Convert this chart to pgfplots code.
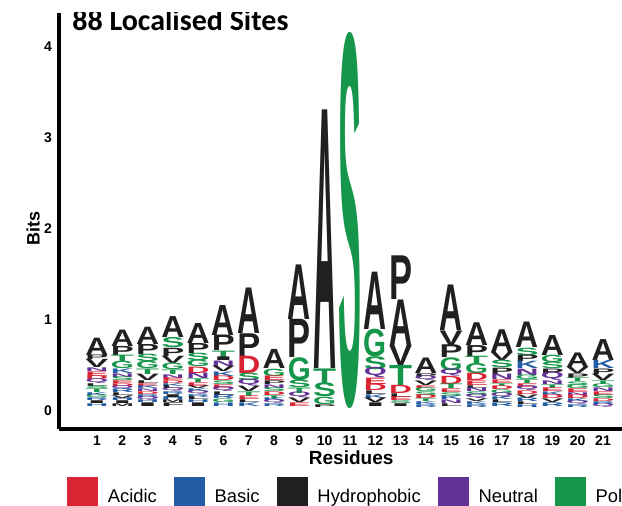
\documentclass[border=0pt]{standalone}
\usepackage{pgfplots}
\pgfplotsset{compat=1.18}
\usepackage{fontspec}
\usepackage{graphicx}
\setmainfont{Liberation Sans}
\newfontfamily\titlefont{Carlito}

\definecolor{clsa}{RGB}{218,36,52}   % acidic
\definecolor{clsb}{RGB}{34,92,162}   % basic
\definecolor{clsh}{RGB}{33,31,32}    % hydrophobic
\definecolor{clsn}{RGB}{98,50,150}   % neutral
\definecolor{clsp}{RGB}{22,150,74}   % polar

\newdimen\bitunit
\bitunit=45.51pt
% meta = letter/height in bits/class
\def\logoletter#1/#2/#3\relax{\resizebox{11.5pt}{#2\bitunit}{\textcolor{cls#3}{\bfseries #1}}}
\newcommand\logonode{\edef\tmpmeta{\pgfplotspointmeta}\expandafter\logoletter\tmpmeta\relax}

% x = residue, b = bottom of letter (bits)
\pgfplotstableread{
x b m
1 0.61 A/0.19/h
1 0.56 P/0.05/h
1 0.47 V/0.09/h
1 0.43 N/0.04/n
1 0.38 E/0.05/a
1 0.34 D/0.04/a
1 0.30 Q/0.04/n
1 0.27 L/0.03/h
1 0.24 S/0.03/p
1 0.20 T/0.04/p
1 0.17 K/0.03/b
1 0.14 G/0.03/p
1 0.11 R/0.03/b
1 0.08 I/0.03/h
1 0.05 H/0.03/b
2 0.71 A/0.18/h
2 0.61 P/0.10/h
2 0.54 T/0.07/p
2 0.46 G/0.08/p
2 0.41 K/0.05/b
2 0.37 N/0.04/n
2 0.33 S/0.04/p
2 0.30 E/0.03/a
2 0.27 D/0.03/a
2 0.24 Q/0.03/n
2 0.20 R/0.04/b
2 0.17 L/0.03/h
2 0.14 V/0.03/h
2 0.11 H/0.03/b
2 0.08 I/0.03/h
2 0.05 M/0.03/h
3 0.73 A/0.19/h
3 0.62 P/0.11/h
3 0.54 S/0.08/p
3 0.46 G/0.08/p
3 0.40 T/0.06/p
3 0.33 V/0.07/h
3 0.30 L/0.03/h
3 0.27 E/0.03/a
3 0.24 K/0.03/b
3 0.21 N/0.03/n
3 0.18 D/0.03/a
3 0.15 R/0.03/b
3 0.12 Q/0.03/n
3 0.09 H/0.03/b
3 0.05 I/0.04/h
4 0.80 A/0.23/h
4 0.69 S/0.11/p
4 0.60 P/0.09/h
4 0.52 V/0.08/h
4 0.45 G/0.07/p
4 0.40 T/0.05/p
4 0.36 N/0.04/n
4 0.33 E/0.03/a
4 0.30 D/0.03/a
4 0.27 K/0.03/b
4 0.24 L/0.03/h
4 0.21 Q/0.03/n
4 0.18 R/0.03/b
4 0.15 I/0.03/h
4 0.12 H/0.03/b
4 0.09 M/0.03/h
4 0.05 F/0.04/h
5 0.74 A/0.22/h
5 0.63 P/0.11/h
5 0.55 S/0.08/p
5 0.48 G/0.07/p
5 0.41 D/0.07/a
5 0.35 N/0.06/n
5 0.31 T/0.04/p
5 0.27 E/0.04/a
5 0.24 V/0.03/h
5 0.21 K/0.03/b
5 0.18 Q/0.03/n
5 0.15 R/0.03/b
5 0.12 L/0.03/h
5 0.09 H/0.03/b
5 0.05 I/0.04/h
6 0.83 A/0.33/h
6 0.66 P/0.17/h
6 0.59 T/0.07/p
6 0.55 I/0.04/h
6 0.49 N/0.06/n
6 0.43 V/0.06/h
6 0.38 K/0.05/b
6 0.33 D/0.05/a
6 0.29 S/0.04/p
6 0.25 E/0.04/a
6 0.21 Q/0.04/n
6 0.17 L/0.04/h
6 0.13 R/0.04/b
6 0.09 G/0.04/p
6 0.05 H/0.04/b
7 0.85 A/0.50/h
7 0.60 P/0.25/h
7 0.41 D/0.19/a
7 0.33 S/0.08/p
7 0.27 Q/0.06/n
7 0.21 V/0.06/h
7 0.16 T/0.05/p
7 0.12 E/0.04/a
7 0.09 L/0.03/h
7 0.05 K/0.04/b
8 0.46 A/0.21/h
8 0.38 G/0.08/p
8 0.33 E/0.05/a
8 0.29 P/0.04/h
8 0.25 N/0.04/n
8 0.21 S/0.04/p
8 0.17 D/0.04/a
8 0.14 T/0.03/p
8 0.11 K/0.03/b
8 0.08 Q/0.03/n
8 0.05 R/0.03/b
9 1.00 A/0.60/h
9 0.58 P/0.42/h
9 0.33 G/0.25/p
9 0.25 S/0.08/p
9 0.19 T/0.06/p
9 0.14 Q/0.05/n
9 0.09 V/0.05/h
9 0.05 E/0.04/a
10 0.46 A/2.84/h
10 0.30 T/0.16/p
10 0.15 S/0.15/p
10 0.07 G/0.08/p
10 0.04 P/0.03/h
11 0.02 S/4.07/p
12 0.89 A/0.63/h
12 0.59 G/0.30/p
12 0.45 S/0.14/p
12 0.36 Q/0.09/n
12 0.29 E/0.07/a
12 0.22 D/0.07/a
12 0.18 L/0.04/h
12 0.14 K/0.04/b
12 0.09 V/0.05/h
12 0.05 I/0.04/h
13 1.22 P/0.48/h
13 0.72 A/0.50/h
13 0.50 V/0.22/h
13 0.28 T/0.22/p
13 0.19 D/0.09/a
13 0.15 L/0.04/h
13 0.11 E/0.04/a
13 0.08 S/0.03/p
13 0.05 I/0.03/h
14 0.41 A/0.17/h
14 0.37 P/0.04/h
14 0.33 Q/0.04/n
14 0.28 V/0.05/h
14 0.25 E/0.03/a
14 0.21 G/0.04/p
14 0.17 S/0.04/p
14 0.13 D/0.04/a
14 0.10 T/0.03/p
14 0.07 K/0.03/b
14 0.04 R/0.03/b
15 0.88 A/0.50/h
15 0.72 V/0.16/h
15 0.58 P/0.14/h
15 0.44 G/0.14/p
15 0.38 Q/0.06/n
15 0.29 D/0.09/a
15 0.24 T/0.05/p
15 0.20 E/0.04/a
15 0.16 S/0.04/p
15 0.12 K/0.04/b
15 0.08 N/0.04/n
15 0.05 L/0.03/h
16 0.72 A/0.25/h
16 0.60 P/0.12/h
16 0.52 T/0.08/p
16 0.41 G/0.11/p
16 0.33 D/0.08/a
16 0.28 E/0.05/a
16 0.25 L/0.03/h
16 0.21 N/0.04/n
16 0.17 S/0.04/p
16 0.13 Q/0.04/n
16 0.10 V/0.03/h
16 0.07 K/0.03/b
16 0.04 R/0.03/b
17 0.64 A/0.25/h
17 0.55 V/0.09/h
17 0.47 S/0.08/p
17 0.40 P/0.07/h
17 0.34 N/0.06/n
17 0.30 E/0.04/a
17 0.27 T/0.03/p
17 0.23 D/0.04/a
17 0.19 G/0.04/p
17 0.15 Q/0.04/n
17 0.12 K/0.03/b
17 0.09 L/0.03/h
17 0.05 R/0.04/b
18 0.69 A/0.28/h
18 0.61 S/0.08/p
18 0.54 P/0.07/h
18 0.46 K/0.08/b
18 0.39 N/0.07/n
18 0.34 G/0.05/p
18 0.30 T/0.04/p
18 0.26 E/0.04/a
18 0.22 Q/0.04/n
18 0.18 D/0.04/a
18 0.14 V/0.04/h
18 0.10 R/0.04/b
18 0.07 L/0.03/h
18 0.04 H/0.03/b
19 0.61 A/0.22/h
19 0.53 G/0.08/p
19 0.46 S/0.07/p
19 0.40 P/0.06/h
19 0.33 Q/0.07/n
19 0.29 N/0.04/n
19 0.25 T/0.04/p
19 0.21 E/0.04/a
19 0.17 K/0.04/b
19 0.13 D/0.04/a
19 0.09 V/0.04/h
19 0.05 R/0.04/b
20 0.48 A/0.16/h
20 0.41 V/0.07/h
20 0.36 P/0.05/h
20 0.32 T/0.04/p
20 0.28 S/0.04/p
20 0.24 G/0.04/p
20 0.20 E/0.04/a
20 0.17 N/0.03/n
20 0.13 D/0.04/a
20 0.10 K/0.03/b
20 0.07 Q/0.03/n
20 0.04 R/0.03/b
21 0.55 A/0.23/h
21 0.46 K/0.09/b
21 0.40 P/0.06/h
21 0.33 V/0.07/h
21 0.29 T/0.04/p
21 0.25 G/0.04/p
21 0.21 N/0.04/n
21 0.17 E/0.04/a
21 0.13 S/0.04/p
21 0.10 D/0.03/a
21 0.07 R/0.03/b
21 0.04 Q/0.03/n
}\logo

\begin{document}
\begin{tikzpicture}
\begin{axis}[
  at={(29.5pt,38.5pt)}, anchor=south west,
  width=281.5pt, height=208pt, scale only axis,
  xmin=-0.5, xmax=21.75,
  ymin=-0.2, ymax=4.37,
  axis x line*=bottom, axis y line*=left,
  axis line style={line width=2pt},
  major tick length=0pt,
  xtick={1,...,21}, ytick={0,...,4},
  /pgf/number format/assume math mode=true,
  tick label style={font=\bfseries\fontsize{7}{8}\selectfont},
  xlabel={Residues},
  xlabel style={at={(axis description cs:0.519,-0.07)}, anchor=center, font=\bfseries\fontsize{9.5}{11}\selectfont},
  ylabel={Bits},
  ylabel style={at={(axis description cs:-0.046,0.483)}, anchor=center, font=\bfseries\fontsize{9}{11}\selectfont},
  legend style={at={(axis description cs:0.0142,-0.155)}, anchor=west, draw=none, fill=none,
    inner sep=0pt, outer sep=0pt, legend columns=5, font=\fontsize{9.2}{11}\selectfont,
    /tikz/every odd column/.append style={column sep=3pt},
    /tikz/every even column/.append style={column sep=6.5pt}},
  legend cell align=left,
  legend image code/.code={\fill[#1] (0pt,-4.8pt) rectangle (15pt,10.2pt);},
]
\addlegendimage{clsa}\addlegendentry{Acidic}
\addlegendimage{clsb}\addlegendentry{Basic}
\addlegendimage{clsh}\addlegendentry{Hydrophobic}
\addlegendimage{clsn}\addlegendentry{Neutral}
\addlegendimage{clsp}\addlegendentry{Polar}

\addplot[only marks, mark=*, mark size=0pt, mark options={draw=none, fill=none},
  point meta=explicit symbolic,
  nodes near coords={\logonode},
  every node near coord/.style={anchor=south, inner sep=0pt, outer sep=0pt},
  forget plot]
  table[x=x, y=b, meta=m] {\logo};

\node[anchor=base west, inner sep=0pt, font=\titlefont\bfseries\fontsize{15}{17}\selectfont]
  at (axis description cs:0.023,0.959) {88 Localised Sites};
\end{axis}
\pgfresetboundingbox
\path[use as bounding box] (0,0) rectangle (311pt,253pt);
\end{tikzpicture}
\end{document}
